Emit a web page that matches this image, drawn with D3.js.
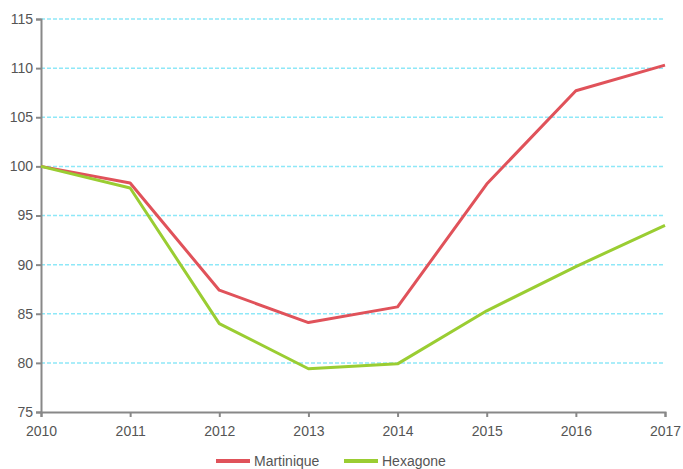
<!DOCTYPE html>
<html>
<head>
<meta charset="utf-8">
<script src="https://cdn.jsdelivr.net/npm/d3@7"></script>
<style>
  body { margin: 0; background: #fff; }
  svg text { font-family: "Liberation Sans", Arial, sans-serif; font-size: 14px; fill: #555; }
</style>
</head>
<body>
<svg id="chart" width="683" height="469"></svg>
<script>
const years = [2010, 2011, 2012, 2013, 2014, 2015, 2016, 2017];
const martinique = [100, 98.3, 87.4, 84.1, 85.7, 98.2, 107.7, 110.3];
const hexagone = [100, 97.8, 84.0, 79.4, 79.9, 85.3, 89.8, 94.0];
const yTicks = [75, 80, 85, 90, 95, 100, 105, 110, 115];
const seriesNames = ['Martinique', 'Hexagone'];
const seriesColors = ['#e0525a', '#9acd32'];

const svg = d3.select('#chart');
const margin = { left: 41, right: 18, top: 19, bottom: 57 };
const width = 683 - margin.left - margin.right;
const height = 469 - margin.top - margin.bottom;

const g = svg.append('g').attr('transform', `translate(${margin.left},${margin.top})`);

const x = d3.scaleLinear().domain([2010, 2017]).range([0, width]);
const y = d3.scaleLinear().domain([75, 115]).range([height, 0]);

// grid
g.append('g')
  .selectAll('line')
  .data(yTicks.filter((t) => t > 75))
  .join('line')
  .attr('x1', 0)
  .attr('x2', width)
  .attr('y1', (d) => y(d))
  .attr('y2', (d) => y(d))
  .attr('stroke', '#8ee8f8')
  .attr('stroke-width', 1.5)
  .attr('stroke-dasharray', '4,2');

// axes
const yAxis = g.append('g')
  .call(d3.axisLeft(y).tickValues(yTicks).tickSize(5).tickPadding(3));
const xAxis = g.append('g')
  .attr('transform', `translate(0,${height})`)
  .call(d3.axisBottom(x).tickValues(years).tickFormat(d3.format('d')).tickSize(5).tickPadding(9));

[yAxis, xAxis].forEach((a) => {
  a.attr('font-size', null).attr('font-family', null);
  a.selectAll('path.domain').attr('stroke', '#888').attr('stroke-width', 2);
  a.selectAll('.tick line').attr('stroke', '#888').attr('stroke-width', 2);
  a.selectAll('text').attr('fill', '#555');
});

// lines
const line = d3.line()
  .x((d, i) => x(years[i]))
  .y((d) => y(d));

[martinique, hexagone].forEach((s, i) => {
  g.append('path')
    .datum(s)
    .attr('d', line)
    .attr('fill', 'none')
    .attr('stroke', seriesColors[i])
    .attr('stroke-width', 3)
    .attr('stroke-linejoin', 'round');
});

// legend
const legend = svg.append('g').attr('transform', 'translate(216,461)');
const legendX = [0, 128];
seriesNames.forEach((name, i) => {
  const item = legend.append('g').attr('transform', `translate(${legendX[i]},0)`);
  item.append('line')
    .attr('x1', 0).attr('x2', 34)
    .attr('stroke', seriesColors[i]).attr('stroke-width', 4);
  item.append('text')
    .attr('x', 38).attr('y', 0).attr('dy', '0.35em')
    .text(name);
});
</script>
</body>
</html>
